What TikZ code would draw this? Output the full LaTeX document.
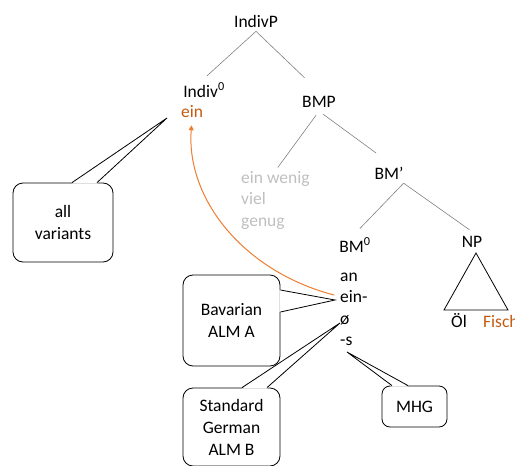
\documentclass[tikz,border=0pt]{standalone}
\usepackage{fontspec}
\setmainfont{Carlito}
\usetikzlibrary{arrows.meta}
\definecolor{morphorange}{RGB}{197,90,17}
\definecolor{moveorange}{RGB}{237,125,49}
\definecolor{quantgrey}{RGB}{191,191,191}
\begin{document}
\begin{tikzpicture}[x=1pt, y=-1pt,
  every node/.style={font=\fontsize{17.5}{22}\selectfont, inner sep=0pt},
  label/.style={anchor=base, inner ysep=4pt},
  branch/.style={draw=black!50, line width=0.6pt},
  bubble/.style={draw, line width=0.8pt, rounded corners=10pt, align=center},
  wedge/.style={draw, line width=0.8pt}]
  \useasboundingbox (0,0) rectangle (515,466);

  % tree labels
  \node[label] (indivP) at (256,27) {IndivP};
  \node[label] (indiv0) at (204,97) {Indiv\textsuperscript{0}};
  \node[anchor=base west, text=morphorange] (einTop) at (181,117) {ein};
  \node[label] (bmp) at (319,107) {BMP};
  \node[label] (bmbar) at (389,179) {BM’};
  \node[label] (bm0) at (355,252) {BM\textsuperscript{0}};
  \node[label] (np) at (472,247) {NP};

  % quantifiers in the specifier
  \foreach \q/\yy/\nm in {ein wenig/183/q1, viel/204.5/q2, genug/226/q3}
    \node[anchor=base west, text=quantgrey] (\nm) at (241,\yy) {\q};

  % morphemes under BM0
  \foreach \m/\yy/\nm in {an/281/an, ein-/302.5/ein, ø/324/zero, -s/345.5/s}
    \node[anchor=base west] (m-\nm) at (340,\yy) {\m};

  % branches
  \draw[branch, shorten >=4pt] (indivP.south) -- (indiv0.north);
  \draw[branch, shorten >=20pt] (indivP.south) -- (bmp.north);
  \draw[branch, shorten <=5pt, shorten >=4pt] (bmp.south) -- (q1.north);
  \draw[branch, shorten <=5pt, shorten >=16pt] (bmp.south) -- (bmbar.north);
  \draw[branch, shorten >=7pt] (bmbar.south east) -- (bm0.north);
  \draw[branch, shorten >=3pt] (bmbar.south east) -- (np.north);

  % NP triangle
  \coordinate (apex) at (476,253);
  \coordinate (triL) at (444,310);
  \coordinate (triR) at (508,310);
  \draw[line width=0.8pt] (apex) -- (triL) -- (triR) -- cycle;
  \node[anchor=base west] (oel) at (451,327) {Öl};
  \node[anchor=base west, text=morphorange] (fisch) at (483,327) {Fisch};

  % head movement
  \draw[moveorange, line width=1pt, -{Triangle[width=5pt,length=5pt]},
    shorten <=6pt, shorten >=8pt]
    (m-ein.west) .. controls (245,272) and (186,200) .. (einTop.south);

  % callouts
  \coordinate (tip-all) at (167,118);
  \coordinate (tip-bav) at (335,300);
  \coordinate (tip-std) at (340,323);
  \coordinate (tip-mhg) at (347,352);

  \node[bubble, minimum width=100, minimum height=79] (allbox) at (63,222.5) {all\\variants};
  \fill[white] ([xshift=9pt,yshift=-1pt]allbox.north) -- (tip-all) -- ([xshift=34pt,yshift=-1pt]allbox.north) -- cycle;
  \draw[wedge] ([xshift=9pt]allbox.north) -- (tip-all) -- ([xshift=34pt]allbox.north);

  \node[bubble, minimum width=97, minimum height=91] (bavbox) at (231.5,320.5) {Bavarian\\ALM A};
  \fill[white] ([xshift=-1pt,yshift=30.5pt]bavbox.east) -- (tip-bav) -- ([xshift=-1pt,yshift=8.5pt]bavbox.east) -- cycle;
  \draw[wedge] ([yshift=30.5pt]bavbox.east) -- (tip-bav) -- ([yshift=8.5pt]bavbox.east);

  \node[bubble, minimum width=97, minimum height=78] (stdbox) at (231.5,427) {Standard\\German\\ALM B};
  \fill[white] ([xshift=10.5pt,yshift=-1pt]stdbox.north) -- (tip-std) -- ([xshift=35.5pt,yshift=-1pt]stdbox.north) -- cycle;
  \draw[wedge] ([xshift=10.5pt]stdbox.north) -- (tip-std) -- ([xshift=35.5pt]stdbox.north);

  \node[bubble, rounded corners=8pt, minimum width=65, minimum height=41] (mhgbox) at (414.5,406.5) {MHG};
  \fill[white] ([xshift=-22.5pt,yshift=-1pt]mhgbox.north) -- (tip-mhg) -- ([xshift=-6.5pt,yshift=-1pt]mhgbox.north) -- cycle;
  \draw[wedge] ([xshift=-22.5pt]mhgbox.north) -- (tip-mhg) -- ([xshift=-6.5pt]mhgbox.north);
\end{tikzpicture}
\end{document}
